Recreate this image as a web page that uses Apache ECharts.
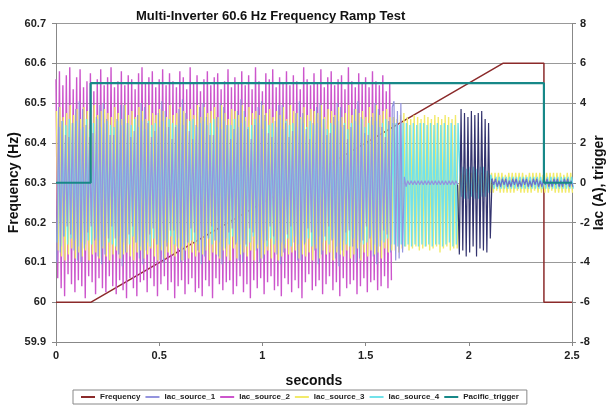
<!DOCTYPE html>
<html>
<head>
<meta charset="utf-8">
<script src="https://cdn.jsdelivr.net/npm/echarts@6/dist/echarts.min.js"></script>
<style>
  html, body { margin: 0; padding: 0; background: #fff; }
  #chart { width: 610px; height: 407px; }
</style>
</head>
<body>
<div id="chart"></div>
<script>
// current peaks come every half cycle of 60 Hz
const peakStep = 1 / 120

// frequency ramp (left axis, Hz)
const freqTime = [0, 0.17, 2.165, 2.364, 2.364, 2.5]
const freqValue = [60, 60, 60.6, 60.6, 60, 60]

// pacific trigger (right axis)
const trigTime = [0, 0.168, 0.168, 2.364, 2.364, 2.5]
const trigValue = [0, 0, 5, 5, 0, 0]

// current peaks (right axis, A)
const iacSource1 = [
  -4.0, 3.8, -3.5, 3.1, -2.7, 2.4, -2.2, 2.3, -2.6, 3.0, -3.4, 3.7, -3.9, 4.1, -4.0, 3.7, -3.3, 2.9, -2.5, 2.3,
  -2.2, 2.5, -2.9, 3.3, -3.7, 3.9, -4.1, 4.0, -3.6, 3.2, -2.8, 2.4, -2.2, 2.4, -2.8, 3.2, -3.6, 3.9, -4.2, 3.9,
  -3.5, 3.0, -2.6, 2.3, -2.2, 2.6, -3.0, 3.4, -3.8, 4.0, -4.1, 3.8, -3.4, 3.0, -2.6, 2.3, -2.3, 2.6, -3.1, 3.5,
  -3.9, 4.1, -4.0, 3.6, -3.2, 2.8, -2.4, 2.2, -2.4, 2.8, -3.2, 3.7, -4.0, 4.2, -3.9, 3.5, -3.0, 2.6, -2.3, 2.2,
  -2.5, 2.9, -3.4, 3.8, -4.1, 4.0, -3.7, 3.3, -2.8, 2.4, -2.2, 2.4, -2.9, 3.3, -3.7, 4.0, -4.1, 3.8, -3.3, 2.9,
  -2.5, 2.2, -2.3, 2.7, -3.1, 3.6, -3.9, 4.2, -4.0, 3.6, -3.1, 2.7, -2.3, 2.2, -2.5, 2.9, -3.4, 3.8, -4.0, 4.1,
  -3.8, 3.4, -2.9, 2.5, -2.2, 2.3, -2.7, 3.1, -3.6, 3.9, -4.1, 3.9, -3.5, 3.0, -2.6, 2.3, -2.2, 2.6, -3.0, 3.5,
  -3.9, 4.1, -3.9, 3.5, -3.1, 2.7, -2.3, 2.2, -2.5, 3.0, -3.4, 3.8, -4.1, 4.0, -3.6, 3.2, -2.7, 2.4, -2.2, 2.5,
  -2.9, 3.3, -3.8, 4.0, -4.2, 3.8, -3.4, 2.9, -2.5, 2.2, -2.4, 2.8, -3.2, 3.7, -4.0, 4.1, -3.8, 3.3, -2.9, 2.5,
  -2.2, 2.4, -2.8, 3.3, -3.7, 4.0, -4.1, 3.7, -3.2, 2.8, -2.4, 2.3, -2.6, 3.1, -3.5, 3.8,
  4.1, -3.9, 3.6, -3.8, 4.0, -3.5, 0.3, -0.2,
  0.1, -0.1, 0.1, -0.1, 0.1, -0.1, 0.1, -0.1, 0.1, -0.1, 0.1, -0.1, 0.1, -0.1, 0.1,
  -0.1, 0.1, -0.1, 0.1, -0.1, 0.1, -0.1, 0.1, -0.1, 0.1, -0.1, 0.1, -0.1, 0.1, -0.1,
  -3.6, 3.7, -3.4, 3.5, -3.7, 3.3, -3.5, 3.6, -3.2, 3.4, -3.7, 3.5, -3.3, 3.6, -3.4, 3.2, -3.5, 3.0, -2.8,
  0.2, -0.1, 0.2, -0.2, 0.1, -0.2, 0.2, -0.1, 0.2, -0.2, 0.1, -0.2, 0.2, -0.1, 0.2, -0.2,
  0.1, -0.2, 0.2, -0.1, 0.2, -0.2, 0.1, -0.2, 0.2, -0.1, 0.2, -0.2, 0.1, -0.2, 0.2, -0.1,
  0.2, -0.2, 0.1, -0.2, 0.2, -0.1, 0.2, -0.2, 0.1, -0.2, 0.2, -0.1, 0.2, -0.2, 0.1, -0.2
]
// source 1 shows as dark bursts between these two indexes
const source1DarkFrom = 233
const source1DarkTo = 253

const iacSource2 = [
  5.2, -4.8, 5.6, -5.3, 4.9, -5.7, 5.4, -4.6, 5.8, -5.1, 4.7, -5.5, 5.3, -4.9, 5.7, -5.2, 4.8, -5.8, 5.1, -4.7,
  5.5, -5.0, 4.6, -5.6, 5.2, -4.8, 5.7, -5.3, 4.9, -5.5, 5.3, -4.7, 5.8, -5.2, 4.8, -5.6, 5.1, -4.9, 5.6, -5.4,
  4.9, -5.8, 5.4, -4.8, 5.2, -5.3, 4.7, -5.7, 5.5, -5.0, 5.8, -4.9, 5.0, -5.5, 5.3, -4.8, 5.6, -5.2, 4.8, -5.7,
  5.2, -5.1, 5.7, -4.7, 4.9, -5.4, 5.5, -5.0, 5.1, -5.8, 4.8, -5.2, 5.6, -4.9, 5.3, -5.6, 4.7, -5.1, 5.8, -4.8,
  5.0, -5.5, 5.4, -5.3, 4.6, -5.7, 5.2, -4.9, 5.6, -5.2, 4.9, -5.8, 5.3, -4.8, 5.5, -5.1, 4.7, -5.4, 5.1, -5.0,
  5.7, -4.9, 4.8, -5.6, 5.3, -5.2, 5.0, -4.7, 5.6, -5.5, 4.9, -5.1, 5.4, -5.8, 4.7, -4.9, 5.8, -5.3, 5.1, -4.8,
  4.6, -5.6, 5.5, -5.0, 5.2, -4.7, 5.7, -5.4, 4.8, -5.2, 5.3, -5.7, 5.0, -4.8, 5.6, -5.1, 4.9, -5.5, 5.4, -4.9,
  5.1, -5.3, 4.7, -5.8, 5.8, -5.0, 5.2, -4.6, 4.9, -5.4, 5.5, -5.2, 5.0, -4.9, 5.7, -5.6, 4.8, -5.1, 5.3, -4.7,
  5.6, -5.4, 4.9, -5.0, 5.2, -5.7, 5.4, -4.8, 4.7, -5.3, 5.8, -5.1, 5.1, -4.9, 4.8, -5.6, 5.5, -5.2, 5.0, -4.8,
  5.3, -5.5, 4.8, -5.0, 5.6, -4.9, 5.1, -5.4, 4.9, -5.2, 5.4, -4.7, 4.6, -5.3, 5.0, -4.9
]
const iacSource3 = [
  3.6, -3.4, 3.8, -3.7, 3.3, -3.9, 3.5, -3.6, 3.9, -3.3, 3.4, -3.8, 3.7, -3.5, 3.2, -3.7, 3.8, -3.4, 3.6, -3.9,
  3.3, -3.6, 3.9, -3.5, 3.4, -3.8, 3.6, -3.3, 3.7, -3.7, 3.5, -3.9, 3.3, -3.6, 3.8, -3.4, 3.5, -3.8, 3.2, -3.6,
  3.9, -3.5, 3.4, -3.7, 3.6, -3.9, 3.3, -3.5, 3.8, -3.4, 3.6, -3.8, 3.2, -3.6, 3.9, -3.3, 3.5, -3.7, 3.4, -3.9,
  3.7, -3.4, 3.6, -3.8, 3.3, -3.5, 3.9, -3.6, 3.4, -3.7, 3.5, -3.3, 3.8, -3.9, 3.6, -3.4, 3.2, -3.8, 3.7, -3.5,
  3.4, -3.7, 3.9, -3.5, 3.3, -3.6, 3.8, -3.4, 3.5, -3.9, 3.6, -3.5, 3.8, -3.6, 3.3, -3.8, 3.9, -3.4, 3.5, -3.7,
  3.2, -3.9, 3.7, -3.3, 3.6, -3.8, 3.4, -3.6, 3.9, -3.5, 3.3, -3.7, 3.8, -3.4, 3.5, -3.9, 3.6, -3.3, 3.4, -3.8,
  3.9, -3.6, 3.5, -3.4, 3.7, -3.8, 3.3, -3.5, 3.6, -3.9, 3.4, -3.7, 3.8, -3.3, 3.2, -3.6, 3.9, -3.5, 3.6, -3.4,
  3.5, -3.8, 3.3, -3.6, 3.8, -3.7, 3.4, -3.5, 3.7, -3.9, 3.6, -3.3, 3.5, -3.8, 3.9, -3.4, 3.3, -3.6, 3.7, -3.5,
  3.6, -3.9, 3.4, -3.5, 3.8, -3.6, 3.3, -3.7, 3.5, -3.4, 3.9, -3.8, 3.4, -3.6, 3.7, -3.3, 3.5, -3.9, 3.6, -3.5,
  3.3, -3.7, 3.8, -3.4, 3.5, -3.6, 3.9, -3.5, 3.4, -3.8, 3.6, -3.3, 3.7, -3.5, 3.3, -3.4,
  3.3, -3.4, 3.2, -3.5, 3.4, -3.3, 3.5, -3.2, 3.3, -3.4, 3.2, -3.3, 3.4, -3.2, 3.3, -3.4, 3.2, -3.3, 3.4, -3.2,
  3.3, -3.4, 3.2, -3.3, 3.4, -3.2, 3.3, -3.5, 3.2, -3.3, 3.4, -3.2, 3.3, -3.4, 3.2, -3.3, 3.4, -3.3,
  -0.5, 0.5, -0.5, 0.4, -0.5, 0.5, -0.4, 0.5, -0.5, 0.5, -0.5, 0.4, -0.5, 0.5, -0.5, 0.5, -0.4, 0.5, -0.5, 0.5,
  -0.5, 0.5, -0.4, 0.5, -0.5, 0.5, -0.5, 0.4, -0.5, 0.5, -0.5, 0.5, -0.5, 0.5, -0.4, 0.5, -0.5, 0.5, -0.5, 0.4,
  -0.5, 0.5, -0.5, 0.5, -0.4, 0.5, -0.5, 0.5, -0.5, 0.4, -0.5, 0.5, -0.5, 0.5, -0.4, 0.5, -0.5, 0.5, -0.5, 0.5,
  -0.5, 0.4, -0.5, 0.5, -0.5, 0.5, -0.5
]
const iacSource4 = [
  -3.0, 2.8, -3.2, 3.1, -2.7, 2.9, -3.1, 3.2, -2.8, 3.0, -2.9, 3.1, -3.2, 2.7, -3.0, 2.8, -3.1, 3.2, -2.9, 2.7,
  -3.1, 3.0, -2.8, 3.2, -2.9, 2.8, -3.2, 3.0, -2.7, 3.1, -3.0, 2.9, -3.1, 2.8, -3.2, 3.1, -2.7, 2.9, -3.0, 3.2,
  -2.8, 3.0, -3.1, 2.9, -2.7, 3.2, -3.0, 2.8, -3.2, 3.1, -2.9, 2.7, -3.0, 3.1, -3.2, 2.9, -2.8, 3.0, -3.1, 2.8,
  -3.2, 3.1, -2.9, 2.8, -3.0, 3.2, -2.7, 3.0, -3.1, 2.9, -2.8, 3.0, -3.2, 2.9, -3.1, 2.7, -3.0, 3.1, -2.9, 3.2,
  -3.0, 2.8, -3.1, 3.0, -2.7, 3.1, -3.2, 2.9, -2.8, 3.0, -3.1, 3.2, -2.9, 2.8, -3.0, 2.7, -3.2, 3.1, -2.8, 2.9,
  -3.1, 2.9, -2.7, 3.2, -3.0, 2.8, -3.1, 3.0, -2.9, 3.1, -3.2, 2.8, -3.0, 2.9, -2.7, 3.2, -3.1, 3.0, -2.8, 2.7,
  -3.0, 3.1, -3.2, 2.9, -2.8, 3.0, -3.1, 2.8, -2.9, 3.2, -3.0, 2.7, -3.1, 3.1, -2.8, 2.9, -3.2, 3.0, -2.7, 2.8,
  -3.1, 3.2, -2.9, 3.0, -3.0, 2.8, -2.8, 3.1, -3.2, 2.9, -3.1, 3.0, -2.7, 2.8, -3.0, 3.2, -2.9, 2.7, -3.1, 3.0,
  -2.8, 2.9, -3.2, 3.1, -3.0, 2.8, -2.9, 3.0, -3.1, 2.7, -3.2, 3.0, -2.8, 3.1, -2.9, 2.9, -3.0, 3.2, -3.1, 2.8,
  -3.0, 3.0, -2.7, 2.9, -3.1, 3.1, -3.2, 2.8, -2.9, 3.0, -3.0, 3.2, -2.8, 2.9, -3.1, 3.0,
  -3.1, 3.0, -3.2, 2.9, -3.1, 3.0, -3.2, 3.0, -3.1, 2.9, -3.2, 3.0, -3.1, 2.9, -3.2, 3.0, -3.1, 3.0, -3.2, 2.9,
  -3.1, 3.0, -3.2, 2.9, -3.1, 3.0, -3.1, 2.9, -3.2, 3.0, -3.1, 2.9, -3.0, 3.0, -3.2, 2.9, -3.1, 3.0,
  0.8, -0.7, 0.8, -0.8, 0.7, -0.8, 0.8, -0.7, 0.8, -0.8, 0.7, -0.8, 0.8, -0.7, 0.8, -0.7, 0.6, -0.5, 0.4,
  0.3, -0.3, 0.3, -0.3, 0.3, -0.3, 0.3, -0.3, 0.3, -0.3, 0.3, -0.3, 0.3, -0.3, 0.3, -0.3,
  0.3, -0.3, 0.3, -0.3, 0.3, -0.3, 0.3, -0.3, 0.3, -0.3, 0.3, -0.3, 0.3, -0.3, 0.3, -0.3,
  0.3, -0.3, 0.3, -0.3, 0.3, -0.3, 0.3, -0.3, 0.3, -0.3, 0.3, -0.3, 0.3, -0.3, 0.3, -0.3
]

// axis ticks
const xTicks = { min: 0, max: 2.5, interval: 0.5 }
const leftTicks = { min: 59.9, max: 60.7, interval: 0.1 }
const rightTicks = { min: -8, max: 8, interval: 2 }

const font = 'Liberation Sans, Arial, sans-serif'

function pairs(xs, ys) {
  return xs.map((x, i) => [x, ys[i]])
}
// peak i sits at i * peakStep, shifted by each source's own phase
function peaks(values, phase, from, to) {
  const out = []
  const end = to === undefined ? values.length : to
  for (let i = from || 0; i < end; i++) {
    out.push([(i + phase) * peakStep, values[i]])
  }
  return out
}

function currentSeries(name, data, color, z, width) {
  return {
    name: name,
    type: 'line',
    yAxisIndex: 1,
    symbol: 'none',
    z: z,
    lineStyle: { width: width || 1.4, color: color },
    itemStyle: { color: color },
    data: data
  }
}

const chart = echarts.init(document.getElementById('chart'))

chart.setOption({
  backgroundColor: '#fff',
  animation: false,
  textStyle: { fontFamily: font },
  title: {
    text: 'Multi-Inverter 60.6 Hz Frequency Ramp Test',
    left: 131,
    top: 5,
    textStyle: { fontSize: 13, fontWeight: 'bold', color: '#111', fontFamily: font }
  },
  grid: { left: 56, right: 38, top: 23.5, bottom: 65, outerBoundsMode: 'none', containLabel: false },
  legend: {
    left: 73,
    top: 390,
    padding: [3, 8],
    itemGap: 5,
    itemWidth: 14,
    itemHeight: 2,
    icon: 'rect',
    borderColor: '#888',
    borderWidth: 1,
    textStyle: { fontSize: 8, fontWeight: 'bold', color: '#222', fontFamily: font },
    data: ['Frequency', 'Iac_source_1', 'Iac_source_2', 'Iac_source_3', 'Iac_source_4', 'Pacific_trigger']
  },
  xAxis: {
    type: 'value',
    min: xTicks.min,
    max: xTicks.max,
    interval: xTicks.interval,
    name: 'seconds',
    nameLocation: 'middle',
    nameGap: 32,
    nameMoveOverlap: false,
    nameTextStyle: { fontSize: 14, fontWeight: 'bold', color: '#111', fontFamily: font },
    axisLine: { onZero: false, lineStyle: { color: '#888' } },
    axisTick: { show: true, length: 4, lineStyle: { color: '#888' } },
    axisLabel: { fontSize: 11, fontWeight: 'bold', color: '#222', margin: 8 },
    splitLine: { show: false }
  },
  yAxis: [{
    type: 'value',
    min: leftTicks.min,
    max: leftTicks.max,
    interval: leftTicks.interval,
    name: 'Frequency (Hz)',
    nameLocation: 'middle',
    nameGap: 35,
    nameMoveOverlap: false,
    nameTextStyle: { fontSize: 14, fontWeight: 'bold', color: '#111', fontFamily: font },
    axisLine: { show: true, lineStyle: { color: '#888' } },
    axisTick: { show: true, length: 4, lineStyle: { color: '#888' } },
    axisLabel: { fontSize: 11, fontWeight: 'bold', color: '#222', margin: 10 },
    splitLine: { show: true, lineStyle: { color: '#999', width: 1 } }
  }, {
    type: 'value',
    min: rightTicks.min,
    max: rightTicks.max,
    interval: rightTicks.interval,
    name: 'Iac (A), trigger',
    nameLocation: 'middle',
    nameGap: 20,
    nameMoveOverlap: false,
    nameTextStyle: { fontSize: 14, fontWeight: 'bold', color: '#111', fontFamily: font },
    axisLine: { show: true, lineStyle: { color: '#888' } },
    axisTick: { show: true, length: 4, lineStyle: { color: '#888' } },
    axisLabel: { fontSize: 11, fontWeight: 'bold', color: '#222', margin: 8 },
    splitLine: { show: false }
  }],
  series: [
    {
      name: 'Frequency',
      type: 'line',
      yAxisIndex: 0,
      symbol: 'none',
      z: 1,
      lineStyle: { width: 1.5, color: '#8b2a2a' },
      itemStyle: { color: '#8b2a2a' },
      data: pairs(freqTime, freqValue)
    },
    currentSeries('Iac_source_1', peaks(iacSource1, 0.5, 0, source1DarkFrom + 1), '#9494de', 2.5, 1.2),
    currentSeries('Iac_source_2', peaks(iacSource2, 0), '#cc55cc', 1),
    currentSeries('Iac_source_3', peaks(iacSource3, 0.25), '#f2ea6a', 2),
    currentSeries('Iac_source_4', peaks(iacSource4, 0.75), '#72e2ea', 2),
    currentSeries('Iac_source_1', peaks(iacSource1, 0.5, source1DarkFrom, source1DarkTo + 1), '#33336e', 2.5, 1.2),
    currentSeries('Iac_source_1', peaks(iacSource1, 0.5, source1DarkTo), '#7070c8', 2.5, 1.2),
    {
      name: 'Pacific_trigger',
      type: 'line',
      yAxisIndex: 1,
      symbol: 'none',
      z: 3,
      lineStyle: { width: 2.2, color: '#178888' },
      itemStyle: { color: '#178888' },
      data: pairs(trigTime, trigValue)
    }
  ]
})
</script>
</body>
</html>
